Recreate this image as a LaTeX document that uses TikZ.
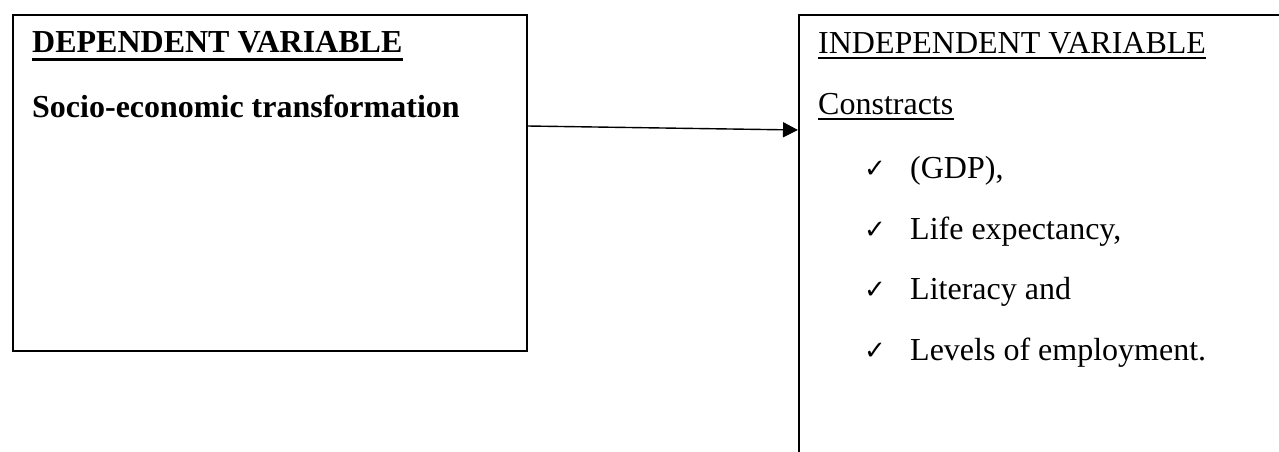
\documentclass[tikz,border=0pt]{standalone}
\usepackage{fontspec}
\setmainfont{Liberation Serif}
\newfontfamily\symfont{DejaVu Sans}
\usetikzlibrary{arrows.meta,calc}
\begin{document}
\begin{tikzpicture}[x=1pt,y=-1pt,
  box/.style={draw=black, line width=1.8pt, inner sep=0, anchor=north west},
  txt/.style={inner sep=0, anchor=base west, font=\fontsize{32}{38}\selectfont},
  boldtxt/.style={inner sep=0, anchor=base west, font=\fontsize{32}{38}\selectfont\bfseries},
  tick/.style={inner sep=0, anchor=base west, font=\fontsize{26}{30}\selectfont\symfont},
  arrowline/.style={-{Triangle[length=15pt,width=15pt]}, line width=1.4pt}
]
\useasboundingbox (0,0) rectangle (1279,451);
\clip (0,0) rectangle (1279,451);
% boxes
\node[box, minimum width=514pt, minimum height=336pt] (leftbox) at (12,14) {};
\node[box, minimum width=520pt, minimum height=480pt] (rightbox) at (798,14) {};
% left texts
\node[boldtxt] (dep) at (32,52) {DEPENDENT VARIABLE};
\draw[line width=2.6pt] ([yshift=-7.5pt]dep.base west) -- ([yshift=-7.5pt]dep.base east);
\node[boldtxt] (soc) at (32,117) {Socio-economic transformation};
% right texts
\node[txt] (indep) at (818,53) {INDEPENDENT VARIABLE};
\draw[line width=1.8pt] ([yshift=-5pt]indep.base west) -- ([yshift=-5pt]indep.base east);
\node[txt] (cons) at (818,114) {Constracts};
\draw[line width=1.8pt] ([yshift=-5pt]cons.base west) -- ([yshift=-5pt]cons.base east);
% list
\node[tick] (t1) at (864,177) {✓};
\node[txt] (l1) at (910,178) {(GDP),};
\node[tick] (t2) at (864,238) {✓};
\node[txt] (l2) at (910,239) {Life expectancy,};
\node[tick] (t3) at (864,298) {✓};
\node[txt] (l3) at (910,299) {Literacy and};
\node[tick] (t4) at (864,359) {✓};
\node[txt] (l4) at (910,360) {Levels of employment.};
% arrow
\draw[arrowline] ($(leftbox.north east)+(0,112)$) -- ($(rightbox.north west)+(0,116)$);
\end{tikzpicture}
\end{document}
